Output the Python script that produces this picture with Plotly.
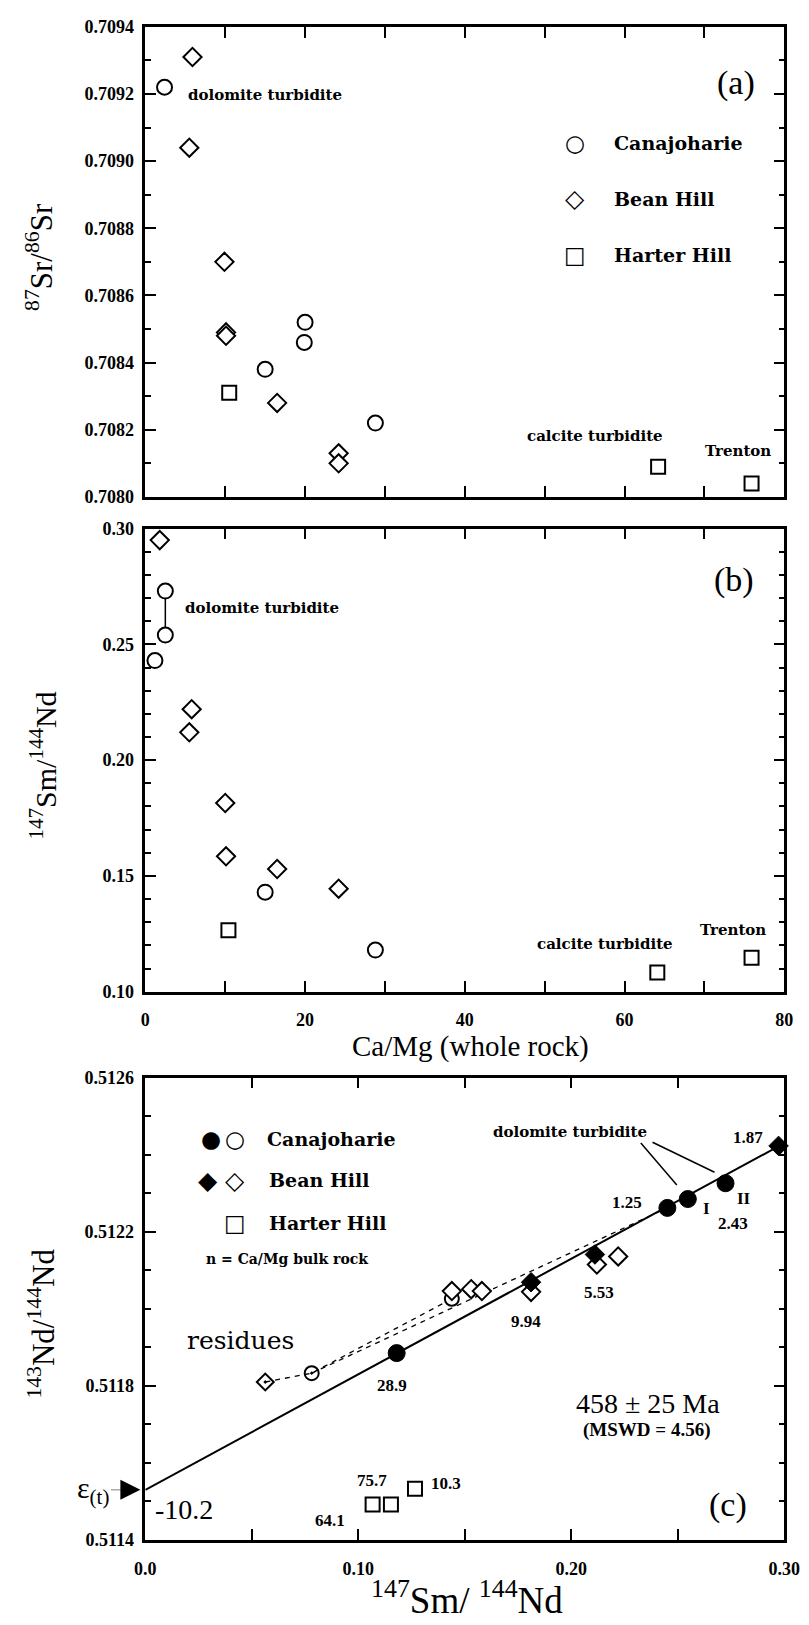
import plotly.graph_objects as go

W, H = 809, 1625


def px(x):
    return x / W


def py(y):
    return 1 - y / H


# ---------------- data ----------------
# panel (a): Ca/Mg vs 87Sr/86Sr
can_a_x = [2.4, 15.0, 20.0, 19.9, 28.8]
can_a_y = [0.70922, 0.70838, 0.70852, 0.70846, 0.70822]
bean_a_x = [5.9, 5.5, 9.9, 10.1, 10.1, 16.5, 24.2, 24.2]
bean_a_y = [0.70931, 0.70904, 0.70870, 0.70849, 0.70848, 0.70828, 0.70813, 0.70810]
hart_a_x = [10.5, 64.2, 75.9]
hart_a_y = [0.70831, 0.70809, 0.70804]

# panel (b): Ca/Mg vs 147Sm/144Nd
can_b_x = [1.2, 2.5, 2.5, 15.0, 28.8]
can_b_y = [0.243, 0.254, 0.273, 0.143, 0.118]
bean_b_x = [1.8, 5.8, 5.5, 10.0, 10.1, 16.5, 24.2]
bean_b_y = [0.295, 0.222, 0.212, 0.1815, 0.1585, 0.153, 0.1445]
hart_b_x = [10.4, 64.1, 75.9]
hart_b_y = [0.1266, 0.1083, 0.1147]

# panel (c): 147Sm/144Nd vs 143Nd/144Nd
can_c_fill_x = [0.1180, 0.2451, 0.2547, 0.2724]
can_c_fill_y = [0.511885, 0.512262, 0.512285, 0.512326]
can_c_open_x = [0.1439]
can_c_open_y = [0.512026]
bean_c_fill_x = [0.1811, 0.2111, 0.2973]
bean_c_fill_y = [0.512069, 0.512141, 0.512423]
bean_c_open_x = [0.1439, 0.1530, 0.1580, 0.1811, 0.2120, 0.2220]
bean_c_open_y = [0.512046, 0.512051, 0.512046, 0.512044, 0.512115, 0.512136]
hart_c_x = [0.1067, 0.1153, 0.1266]
hart_c_y = [0.511492, 0.511492, 0.511533]
res_can_x = [0.0781]
res_can_y = [0.511833]
res_bean_x = [0.0563]
res_bean_y = [0.51181]
iso_x = [0.0, 0.30]
iso_y = [0.51153, 0.51243]
dash1_x = [0.0563, 0.0781, 0.1439]
dash1_y = [0.51181, 0.511833, 0.512026]
dash2_x = [0.0781, 0.2451]
dash2_y = [0.511833, 0.512262]

# Ca/Mg labels for panel (c) points: (text, x, y, xshift, yshift)
c_labels = [
    ("28.9", can_c_fill_x[0], can_c_fill_y[0], -5, -32),
    ("9.94", bean_c_fill_x[0], bean_c_fill_y[0], -5, -39),
    ("5.53", bean_c_fill_x[1], bean_c_fill_y[1], 4, -38),
    ("1.25", can_c_fill_x[1], can_c_fill_y[1], -40, 5),
    ("I", can_c_fill_x[2], can_c_fill_y[2], 19, -9),
    ("II", can_c_fill_x[3], can_c_fill_y[3], 18, -15),
    ("2.43", can_c_fill_x[3], can_c_fill_y[3], 7, -40),
    ("1.87", bean_c_fill_x[2], bean_c_fill_y[2], -31, 8),
    ("64.1", hart_c_x[0], hart_c_y[0], -43, -16),
    ("75.7", hart_c_x[1], hart_c_y[1], -19, 24),
    ("10.3", hart_c_x[2], hart_c_y[2], 31, 5),
]

# ---------------- styles ----------------
SERIF = "Liberation Serif"
LEGF = "DejaVu Serif"
SYM = "DejaVu Sans"
MS = 15


def open_marker(symbol, size=MS):
    return dict(symbol=symbol, size=size, color="white", line=dict(color="black", width=2))


def fill_marker(symbol, size=MS + 2):
    return dict(symbol=symbol, size=size, color="black", line=dict(color="black", width=1))


fig = go.Figure()

# panel (a)
fig.add_trace(go.Scatter(x=can_a_x, y=can_a_y, mode="markers", marker=open_marker("circle"),
                         name="Canajoharie", xaxis="x", yaxis="y"))
fig.add_trace(go.Scatter(x=bean_a_x, y=bean_a_y, mode="markers", marker=open_marker("diamond", 14),
                         name="Bean Hill", xaxis="x", yaxis="y"))
fig.add_trace(go.Scatter(x=hart_a_x, y=hart_a_y, mode="markers", marker=open_marker("square", 14),
                         name="Harter Hill", xaxis="x", yaxis="y"))

# panel (b)
fig.add_trace(go.Scatter(x=[can_b_x[1], can_b_x[2]], y=[can_b_y[1], can_b_y[2]], mode="lines",
                         line=dict(color="black", width=1.5), xaxis="x2", yaxis="y2"))
fig.add_trace(go.Scatter(x=can_b_x, y=can_b_y, mode="markers", marker=open_marker("circle"),
                         name="Canajoharie", xaxis="x2", yaxis="y2"))
fig.add_trace(go.Scatter(x=bean_b_x, y=bean_b_y, mode="markers", marker=open_marker("diamond", 14),
                         name="Bean Hill", xaxis="x2", yaxis="y2"))
fig.add_trace(go.Scatter(x=hart_b_x, y=hart_b_y, mode="markers", marker=open_marker("square", 14),
                         name="Harter Hill", xaxis="x2", yaxis="y2"))

# panel (c)
fig.add_trace(go.Scatter(x=iso_x, y=iso_y, mode="lines", line=dict(color="black", width=2),
                         xaxis="x3", yaxis="y3"))
fig.add_trace(go.Scatter(x=dash1_x, y=dash1_y, mode="lines",
                         line=dict(color="black", width=1.3, dash="5px,5px"), xaxis="x3", yaxis="y3"))
fig.add_trace(go.Scatter(x=dash2_x, y=dash2_y, mode="lines",
                         line=dict(color="black", width=1.3, dash="5px,5px"), xaxis="x3", yaxis="y3"))
fig.add_trace(go.Scatter(x=can_c_open_x, y=can_c_open_y, mode="markers", marker=open_marker("circle", 14),
                         xaxis="x3", yaxis="y3"))
fig.add_trace(go.Scatter(x=bean_c_open_x, y=bean_c_open_y, mode="markers", marker=open_marker("diamond", 14),
                         xaxis="x3", yaxis="y3"))
fig.add_trace(go.Scatter(x=hart_c_x, y=hart_c_y, mode="markers", marker=open_marker("square", 14),
                         xaxis="x3", yaxis="y3"))
fig.add_trace(go.Scatter(x=can_c_fill_x, y=can_c_fill_y, mode="markers", marker=fill_marker("circle"),
                         xaxis="x3", yaxis="y3"))
fig.add_trace(go.Scatter(x=bean_c_fill_x, y=bean_c_fill_y, mode="markers", marker=fill_marker("diamond", 15),
                         cliponaxis=False, xaxis="x3", yaxis="y3"))
fig.add_trace(go.Scatter(x=res_can_x, y=res_can_y, mode="markers",
                         marker=dict(symbol="circle-open-dot", size=14, color="black", line=dict(width=2)),
                         xaxis="x3", yaxis="y3"))
fig.add_trace(go.Scatter(x=res_bean_x, y=res_bean_y, mode="markers",
                         marker=dict(symbol="diamond-open-dot", size=13, color="black", line=dict(width=2)),
                         xaxis="x3", yaxis="y3"))

# ---------------- axes ----------------
XD = [px(139), px(800)]
TICKF = dict(family=SERIF, size=18, color="black", weight="bold")
MINOR = dict(ticks="inside", ticklen=6, tickwidth=2, tickcolor="black", showgrid=False)
common = dict(showline=True, linecolor="black", linewidth=2.5, mirror="ticks", ticks="inside",
              tickcolor="black", tickwidth=2, ticklen=11, showgrid=False, zeroline=False,
              tickfont=TICKF)

fig.update_layout(
    xaxis=dict(domain=XD, range=[0, 80], anchor="y", dtick=20, tick0=0, showticklabels=False,
               minor=dict(MINOR, tickmode="linear", tick0=0, dtick=10, ticklen=11), **common),
    yaxis=dict(domain=[py(493), py(17)], range=[0.7080, 0.7094], anchor="x", dtick=0.0002, tick0=0.7080,
               tickformat=".4f", ticklabelstandoff=5,
               minor=dict(MINOR, tickmode="linear", tick0=0.7080, dtick=0.0001), **common),
    xaxis2=dict(domain=XD, range=[0, 80], anchor="y2", dtick=20, tick0=0, ticklabelstandoff=10,
                minor=dict(MINOR, tickmode="linear", tick0=0, dtick=10, ticklen=11), **common),
    yaxis2=dict(domain=[py(994), py(525)], range=[0.10, 0.30], anchor="x2", dtick=0.05, tick0=0.10,
                tickformat=".2f", ticklabelstandoff=5,
                minor=dict(MINOR, tickmode="linear", tick0=0.10, dtick=0.01), **common),
    xaxis3=dict(domain=XD, range=[0, 0.30], anchor="y3", tickvals=[0, 0.10, 0.20, 0.30],
                ticktext=["0.0", "0.10", "0.20", "0.30"], ticklabelstandoff=11,
                minor=dict(MINOR, tickmode="linear", tick0=0, dtick=0.05, ticklen=11), **common),
    yaxis3=dict(domain=[py(1549), py(1081)], range=[0.5114, 0.5126], anchor="x3", dtick=0.0004, tick0=0.5114,
                tickformat=".4f", ticklabelstandoff=5,
                minor=dict(MINOR, tickmode="linear", tick0=0.5114, dtick=0.0001), **common),
)

# ---------------- annotations ----------------
ann = []


def txt(x, y, text, size, family=SERIF, weight="normal", xanchor="center", angle=0, yanchor="middle"):
    ann.append(dict(xref="paper", yref="paper", x=px(x), y=py(y), text=text, showarrow=False,
                    xanchor=xanchor, yanchor=yanchor, textangle=angle,
                    font=dict(family=family, size=size, color="black", weight=weight)))


# axis titles
txt(30, 250, "<sup>87</sup>Sr/<sup>86</sup>Sr", 31, angle=-90)
txt(33, 765, "<sup>147</sup>Sm/<sup>144</sup>Nd", 30, angle=-90)
txt(475, 1049, "Ca/Mg (whole rock)", 29)
txt(32, 1330, "<sup>143</sup>Nd/<sup>144</sup>Nd", 31, angle=-90)
txt(472, 1633, "<sup>147</sup>Sm/ <sup>144</sup>Nd", 37, yanchor="bottom")

# panel letters
txt(750, 74, "(a)", 34)
txt(748, 577, "(b)", 34)
txt(742, 1514, "(c)", 34)

# panel (a) legend
txt(583, 135, "○", 23, family=SYM)
txt(583, 191, "◇", 25, family=SYM)
txt(583, 248, "□", 23, family=SYM)
txt(622, 135, "Canajoharie", 19, family=LEGF, weight="bold", xanchor="left")
txt(622, 191, "Bean Hill", 19, family=LEGF, weight="bold", xanchor="left")
txt(622, 248, "Harter Hill", 19, family=LEGF, weight="bold", xanchor="left")

# panel (a) / (b) text
txt(181, 86, "dolomite turbidite", 15, family=LEGF, weight="bold", xanchor="left")
txt(604, 431, "calcite turbidite", 15, family=LEGF, weight="bold")
txt(752, 446, "Trenton", 15, family=LEGF, weight="bold")
txt(178, 605, "dolomite turbidite", 15, family=LEGF, weight="bold", xanchor="left")
txt(614, 946, "calcite turbidite", 15, family=LEGF, weight="bold")
txt(747, 931, "Trenton", 15, family=LEGF, weight="bold")

# panel (c) legend
txt(207, 1143, "●", 23, family=SYM)
txt(232, 1143, "○", 23, family=SYM)
txt(204, 1185, "◆", 25, family=SYM)
txt(232, 1185, "◇", 25, family=SYM)
txt(232, 1228, "□", 23, family=SYM)
txt(263, 1143, "Canajoharie", 19, family=LEGF, weight="bold", xanchor="left")
txt(265, 1185, "Bean Hill", 19, family=LEGF, weight="bold", xanchor="left")
txt(265, 1228, "Harter Hill", 19, family=LEGF, weight="bold", xanchor="left")
txt(286, 1265, "n = Ca/Mg bulk rock", 14, family=LEGF, weight="bold")

# panel (c) text
txt(578, 1136, "dolomite turbidite", 15, family=LEGF, weight="bold")
txt(237, 1347, "residues", 25, family=LEGF)
txt(659, 1411, "458 ± 25 Ma", 28)
txt(657, 1438, "(MSWD = 4.56)", 19, weight="bold")
txt(179, 1518, "-10.2", 28)

for t, x, y, xs, ys in c_labels:
    ann.append(dict(xref="x3", yref="y3", x=x, y=y, text=t, showarrow=False, xshift=xs, yshift=ys,
                    font=dict(family=SERIF, size=17, color="black", weight="bold")))

# epsilon(t) label with its pointer at the isochron intercept
ann.append(dict(xref="x3", yref="y3", x=iso_x[0], y=iso_y[0], text="ε<sub>(t)</sub>", showarrow=True,
                ax=-52, ay=0, arrowhead=2, arrowsize=8, arrowwidth=0.5, arrowcolor="black", standoff=5,
                font=dict(family=SERIF, size=30, color="black")))

fig.update_layout(annotations=ann)

# leader lines for "dolomite turbidite" in (c), anchored on points I and II
fig.add_shape(type="line", xref="x3", yref="y3", xsizemode="pixel", ysizemode="pixel",
              xanchor=can_c_fill_x[2], yanchor=can_c_fill_y[2], x0=-47, y0=56, x1=-11, y1=14,
              line=dict(color="black", width=1.5))
fig.add_shape(type="line", xref="x3", yref="y3", xsizemode="pixel", ysizemode="pixel",
              xanchor=can_c_fill_x[3], yanchor=can_c_fill_y[3], x0=-73, y0=41, x1=-11, y1=11,
              line=dict(color="black", width=1.5))

fig.update_layout(width=W, height=H, margin=dict(l=0, r=0, t=0, b=0), showlegend=False,
                  paper_bgcolor="white", plot_bgcolor="white")

fig.write_html("out.html")
